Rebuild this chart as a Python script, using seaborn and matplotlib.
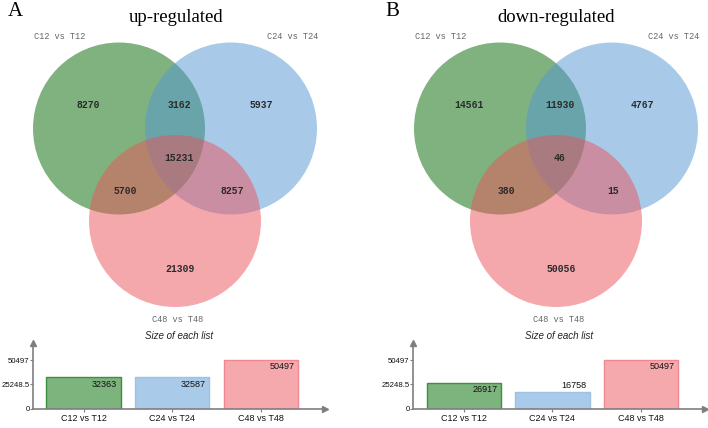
import numpy as np
import pandas as pd
import seaborn as sns
import matplotlib.pyplot as plt
from matplotlib.patches import Circle

# Data
list_names = ['C12 vs T12', 'C24 vs T24', 'C48 vs T48']
up_sizes = [32363, 32587, 50497]
down_sizes = [26917, 16758, 50497]
# region counts: only1, only2, only3, 1&2, 1&3, 2&3, all
up_regions = [8270, 5937, 21309, 3162, 5700, 8257, 15231]
down_regions = [14561, 4767, 50056, 11930, 380, 15, 46]

venn_colors = ['#006700', '#5397d3', '#eb535b']
bar_faces = ['#7db37d', '#a9cbe9', '#f5a9ad']
bar_edges = ['#3f8f3f', '#9cc2e6', '#ef8890']

sns.set_theme(style='white')
plt.rcParams['font.family'] = ['Liberation Sans', 'DejaVu Sans']

fig = plt.figure(figsize=(7.08, 4.28), dpi=100)
canvas = fig.add_axes([0, 0, 1, 1])
canvas.set_xlim(0, 708)
canvas.set_ylim(428, 0)
canvas.axis('off')

R = 86
# circle centres relative to venn centre
circ_off = [(-56, -92.5), (56, -92.5), (0, 0)]
# label offsets for each region, same order as region lists
reg_off = [(-87, -116), (86, -116), (5, 48), (4, -116), (-50, -30), (57, -30), (4, -63)]
name_off = [(-115, -185), (118, -185), (3, 98)]


def draw_venn(cx, cy, regions, title, letter, title_x, letter_x):
    for (dx, dy), col in zip(circ_off, venn_colors):
        canvas.add_patch(Circle((cx + dx, cy + dy), R, color=col, alpha=0.5, lw=0))
    for (dx, dy), n in zip(reg_off, regions):
        canvas.text(cx + dx, cy + dy, str(n), ha='center', va='center',
                    fontsize=7, family='Liberation Mono', weight='bold', color='#2a2a2a')
    for (dx, dy), name in zip(name_off, list_names):
        canvas.text(cx + dx, cy + dy, name, ha='center', va='center',
                    fontsize=6.2, family='Liberation Mono', color='#666666')
    canvas.text(title_x, 17, title, ha='center', va='center',
                fontsize=13.5, family='Liberation Serif', color='black')
    canvas.text(letter_x, 11, letter, ha='center', va='center',
                fontsize=15, family='Liberation Serif', color='black')


def draw_bars(left_px, sizes):
    # axes in pixel units -> figure fraction
    ax = fig.add_axes([left_px / 708, (428 - 408.5) / 428, 292 / 708, 65.5 / 428])
    df = pd.DataFrame({'name': list_names, 'size': sizes})
    sns.barplot(data=df, x='name', y='size', hue='name', palette=bar_faces,
                legend=False, width=0.84, ax=ax, saturation=1)
    for p, ec in zip(ax.patches, bar_edges):
        p.set_edgecolor(ec)
        p.set_linewidth(1)
    ax.set_xlim(-0.57, 2.725)
    ax.set_ylim(0, 68200)
    top = max(sizes)
    ax.set_yticks([0, top / 2, top])
    ax.set_yticklabels(['0', f'{top / 2:g}', str(top)])
    ax.set_xlabel('')
    ax.set_ylabel('')
    for s in ['top', 'right']:
        ax.spines[s].set_visible(False)
    for s in ['left', 'bottom']:
        ax.spines[s].set_color('#7f7f7f')
        ax.spines[s].set_linewidth(1.2)
    ax.tick_params(axis='both', length=2.5, width=0.8, color='#7f7f7f',
                   labelsize=6.5, pad=1.5, labelcolor='#111111', bottom=True, left=True)
    ax.tick_params(axis='y', labelsize=5.6, pad=0.5, length=2)
    ax.plot(1, 0, '>', color='#7f7f7f', ms=4, transform=ax.transAxes, clip_on=False)
    ax.plot(0, 1, '^', color='#7f7f7f', ms=4, transform=ax.transAxes, clip_on=False)
    for i, v in enumerate(sizes):
        if v > top * 0.45:
            ax.text(i + 0.38, v - top * 0.05, str(v), ha='right', va='top',
                    fontsize=6.5, color='#111111')
        else:
            ax.text(i + 0.38, v + top * 0.05, str(v), ha='right', va='bottom',
                    fontsize=6.5, color='#111111')
    ax.set_title('Size of each list', fontsize=7, style='italic', color='#222222', pad=3)
    ax.patch.set_alpha(0)
    return ax


draw_venn(175, 221, up_regions, 'up-regulated', 'A', 176, 15)
draw_venn(556, 221, down_regions, 'down-regulated', 'B', 556, 392)
draw_bars(33, up_sizes)
draw_bars(413.3, down_sizes)

fig.savefig('out.png', dpi=100)
